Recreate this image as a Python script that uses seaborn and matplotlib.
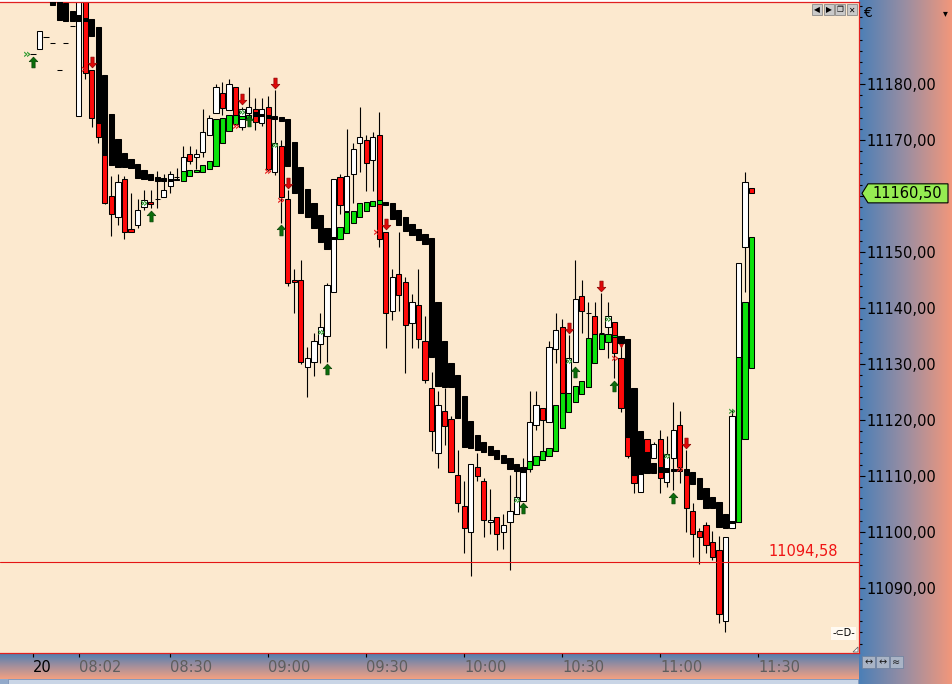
import numpy as np
import matplotlib
matplotlib.use('Agg')
import matplotlib.pyplot as plt
from matplotlib.path import Path
from matplotlib.patches import Polygon, Rectangle
from matplotlib.colors import LinearSegmentedColormap
import seaborn as sns

# 2-minute bars, index 0 = last bar of the 20th, index 7 = 08:02
opens = [11185.4, 11186.3, 11188.5, 11187.4, 11182.6, 11187.4, 11190.4, 11174.3, 11197.5, 11182.6,
         11173.1, 11167.4, 11160.0, 11156.3, 11163.1, 11154.1, 11154.8, 11158.1, 11159.0, 11159.5,
         11159.9, 11161.8, 11163.4, 11163.6, 11167.5, 11167.0, 11167.9, 11170.9, 11174.9, 11178.4,
         11175.4, 11179.5, 11172.4, 11174.9, 11175.6, 11173.1, 11175.9, 11164.3, 11169.0, 11159.5,
         11145.0, 11145.0, 11129.5, 11130.4, 11133.6, 11135.0, 11142.9, 11163.4, 11157.4, 11164.0,
         11169.5, 11170.0, 11166.5, 11170.9, 11153.6, 11139.5, 11146.1, 11144.7, 11137.3, 11140.5,
         11134.1, 11125.7, 11114.1, 11121.6, 11120.2, 11110.1, 11104.6, 11100.0, 11111.6, 11109.1,
         11101.8, 11102.7, 11100.0, 11101.8, 11103.2, 11105.5, 11111.2, 11119.1, 11122.1, 11119.6,
         11132.7, 11136.6, 11124.8, 11130.4, 11142.2, 11139.1, 11138.6, 11135.5, 11136.6, 11137.5,
         11131.1, 11117.0, 11110.1, 11107.1, 11116.6, 11113.2, 11116.6, 11108.9, 11113.2, 11119.1,
         11110.1, 11103.7, 11100.1, 11101.2, 11098.2, 11096.7, 11084.0, 11100.7, 11101.8, 11150.9,
         11161.5]
highs = [11185.4, 11189.5, 11188.5, 11187.4, 11182.6, 11187.4, 11190.4, 11198.0, 11198.0, 11182.6,
         11173.1, 11167.4, 11163.6, 11164.0, 11163.6, 11160.6, 11159.5, 11161.1, 11161.1, 11164.5,
         11164.0, 11164.5, 11165.0, 11169.0, 11169.0, 11168.4, 11175.6, 11174.5, 11180.1, 11180.4,
         11180.9, 11179.6, 11175.9, 11179.5, 11177.5, 11177.5, 11177.9, 11179.0, 11170.0, 11161.1,
         11147.0, 11148.6, 11133.0, 11135.5, 11139.1, 11144.5, 11163.1, 11164.0, 11172.0, 11169.5,
         11175.9, 11170.9, 11171.5, 11175.1, 11153.6, 11147.0, 11153.6, 11145.5, 11142.5, 11147.0,
         11138.6, 11128.6, 11125.2, 11125.7, 11120.7, 11114.6, 11109.1, 11112.1, 11114.1, 11109.6,
         11107.6, 11102.7, 11103.2, 11110.1, 11111.1, 11113.2, 11125.2, 11125.2, 11122.1, 11134.1,
         11139.1, 11138.0, 11135.2, 11148.6, 11145.0, 11141.1, 11141.1, 11142.7, 11141.1, 11137.5,
         11133.7, 11117.0, 11110.1, 11110.3, 11116.6, 11116.1, 11118.2, 11117.1, 11123.2, 11121.6,
         11114.6, 11105.1, 11100.7, 11101.8, 11100.1, 11099.3, 11099.1, 11121.8, 11148.1, 11164.3,
         11161.5]
lows = [11185.4, 11186.3, 11188.5, 11187.4, 11182.6, 11187.4, 11190.4, 11174.3, 11181.0, 11172.4,
        11169.5, 11158.6, 11152.9, 11154.8, 11152.3, 11153.6, 11154.3, 11157.5, 11157.9, 11157.9,
        11159.9, 11160.6, 11162.9, 11162.7, 11165.7, 11164.9, 11167.0, 11170.9, 11174.9, 11174.5,
        11175.4, 11172.8, 11171.8, 11174.5, 11171.8, 11172.5, 11164.5, 11163.8, 11155.2, 11143.9,
        11139.1, 11130.0, 11124.1, 11127.8, 11130.2, 11130.4, 11142.9, 11156.8, 11157.4, 11158.8,
        11164.3, 11160.9, 11160.9, 11150.9, 11132.9, 11137.9, 11139.5, 11128.4, 11132.9, 11132.9,
        11126.6, 11114.4, 11111.4, 11115.5, 11110.7, 11103.5, 11096.2, 11092.1, 11109.1, 11099.1,
        11099.6, 11096.7, 11096.9, 11093.1, 11103.2, 11105.5, 11110.7, 11118.2, 11114.4, 11119.6,
        11130.2, 11124.8, 11124.8, 11130.4, 11135.5, 11134.7, 11135.4, 11135.4, 11131.1, 11127.5,
        11121.4, 11113.2, 11106.9, 11107.1, 11111.4, 11113.2, 11106.9, 11108.0, 11107.5, 11108.7,
        11100.0, 11095.5, 11094.2, 11096.2, 11095.0, 11083.7, 11082.1, 11100.7, 11101.8, 11142.9,
        11160.5]
closes = [11185.4, 11189.5, 11188.5, 11187.4, 11182.6, 11187.4, 11190.4, 11197.5, 11182.0, 11174.0,
          11170.6, 11158.8, 11156.8, 11162.5, 11153.6, 11153.6, 11157.5, 11159.3, 11158.6, 11159.5,
          11161.1, 11164.0, 11163.4, 11167.0, 11166.3, 11167.5, 11171.5, 11174.0, 11179.5, 11175.8,
          11180.1, 11173.0, 11175.6, 11175.9, 11173.3, 11175.6, 11164.9, 11169.5, 11159.9, 11144.5,
          11144.7, 11130.4, 11131.1, 11134.1, 11136.6, 11144.1, 11163.1, 11158.4, 11163.6, 11168.4,
          11170.6, 11165.9, 11170.6, 11152.3, 11139.1, 11145.5, 11142.3, 11137.0, 11141.1, 11134.5,
          11127.1, 11118.0, 11122.7, 11118.9, 11110.7, 11105.1, 11100.7, 11112.1, 11110.0, 11102.1,
          11102.1, 11099.6, 11101.2, 11103.7, 11106.2, 11110.7, 11119.6, 11122.7, 11120.0, 11133.0,
          11136.1, 11124.8, 11131.1, 11141.6, 11139.5, 11139.1, 11135.4, 11135.5, 11138.6, 11132.0,
          11122.2, 11113.5, 11108.7, 11110.3, 11111.4, 11115.7, 11109.6, 11113.9, 11118.2, 11111.6,
          11104.2, 11099.6, 11099.1, 11097.6, 11095.5, 11085.3, 11099.1, 11120.7, 11148.1, 11162.5,
          11160.5]

# smoothed (heikin-ashi style) bars drawn over the candles
ha_open = [np.nan, np.nan, np.nan, 11196.0, 11194.7, 11194.5, 11193.1, 11192.4, 11191.9, 11191.7,
           11190.2, 11181.7, 11174.7, 11170.2, 11167.7, 11166.6, 11165.7, 11164.7, 11164.0, 11163.4,
           11163.2, 11163.1, 11163.0, 11162.7, 11163.6, 11164.3, 11164.3, 11164.9, 11165.4, 11169.5,
           11171.6, 11172.9, 11173.8, 11173.8, 11175.0, 11174.7, 11174.5, 11174.3, 11174.1, 11173.8,
           11169.7, 11165.2, 11161.3, 11158.8, 11156.6, 11154.3, 11152.7, 11152.3, 11153.4, 11155.2,
           11156.3, 11157.4, 11158.2, 11158.6, 11159.0, 11158.8, 11157.5, 11156.3, 11155.0, 11154.1,
           11153.3, 11152.5, 11141.0, 11134.1, 11130.2, 11128.1, 11124.3, 11119.8, 11117.3, 11116.0,
           11115.3, 11114.6, 11113.7, 11113.2, 11112.1, 11111.6, 11111.2, 11111.9, 11112.8, 11113.5,
           11114.4, 11118.6, 11121.4, 11123.2, 11124.6, 11125.9, 11130.2, 11132.7, 11133.9, 11134.8,
           11135.0, 11134.5, 11125.7, 11118.0, 11114.3, 11112.3, 11111.6, 11111.4, 11111.2, 11111.2,
           11111.2, 11110.7, 11109.6, 11107.8, 11106.2, 11105.3, 11103.2, 11101.9, 11101.8, 11116.6,
           11129.3]
ha_close = [np.nan, np.nan, np.nan, 11194.2, 11191.5, 11191.3, 11191.3, 11191.3, 11191.3, 11188.6,
            11173.1, 11167.4, 11165.6, 11165.2, 11165.2, 11165.0, 11163.2, 11163.1, 11162.9, 11162.7,
            11162.7, 11162.7, 11162.9, 11164.5, 11164.7, 11164.7, 11165.6, 11166.3, 11173.8, 11174.0,
            11174.5, 11174.5, 11174.3, 11174.5, 11174.3, 11174.3, 11174.0, 11173.8, 11173.4, 11165.4,
            11160.6, 11157.0, 11156.3, 11154.3, 11151.8, 11150.5, 11152.3, 11154.5, 11157.2, 11157.4,
            11158.8, 11159.0, 11159.1, 11159.3, 11158.4, 11155.9, 11154.8, 11153.8, 11153.1, 11152.2,
            11151.4, 11131.2, 11126.1, 11125.9, 11125.9, 11120.3, 11115.2, 11115.0, 11114.6, 11114.3,
            11113.7, 11113.0, 11112.3, 11111.2, 11110.9, 11110.7, 11112.6, 11113.5, 11114.4, 11115.0,
            11122.7, 11124.8, 11124.8, 11126.1, 11127.0, 11134.7, 11135.4, 11135.4, 11135.4, 11135.2,
            11133.7, 11117.0, 11110.1, 11110.3, 11110.5, 11110.5, 11110.7, 11110.7, 11110.9, 11110.9,
            11110.1, 11108.5, 11105.9, 11104.2, 11104.2, 11100.9, 11100.7, 11101.6, 11131.3, 11141.0,
            11152.7]

# signal markers
up_bars = [0, 18, 33, 38, 45, 75, 83, 89, 98]
up_price = [11183.9, 11156.5, 11173.4, 11154.0, 11129.1, 11104.2, 11128.6, 11126.1, 11106.1]
down_bars = [9, 32, 37, 39, 54, 82, 87, 100]
down_price = [11183.9, 11177.4, 11180.3, 11162.4, 11155.0, 11136.5, 11143.85, 11115.95]
buy_chev_x = [-0.9, 17, 32, 37, 44, 74, 82, 88, 97, 107]
buy_chev_p = [11185.4, 11158.8, 11174.9, 11169.0, 11135.6, 11105.7, 11130.5, 11137.9, 11113.4, 11121.6]
sell_chev_x = [8, 31, 36, 38, 52.6, 89, 99]
sell_chev_p = [11182.6, 11172.45, 11164.4, 11159.3, 11153.6, 11131.0, 11111.2]

time_ticks = [0, 7, 21, 36, 51, 66, 81, 96, 111]
time_labels = ['20', '08:02', '08:30', '09:00', '09:30', '10:00', '10:30', '11:00', '11:30']
price_ticks = list(range(11090, 11181, 10))
level = 11094.58
last_price = 11160.50

W, H = 952, 684
sns.set_style('ticks')
plt.rcParams['font.family'] = ['DejaVu Sans']

fig = plt.figure(figsize=(W / 100, H / 100), dpi=100)

# gradient panels for the price scale and time scale
grad_h = LinearSegmentedColormap.from_list('h', ['#4b7fb7', '#9a8ea2', '#f2977b'])
grad_v = LinearSegmentedColormap.from_list('v', ['#4d7eb2', '#a48f9c', '#f3a181'])
ax_r = fig.add_axes([859 / W, 0, 93 / W, 1])
ax_r.imshow(np.linspace(0, 1, 256)[None, :], cmap=grad_h, aspect='auto', extent=[0, 1, 0, 1])
ax_r.axis('off')
ax_b = fig.add_axes([0, 5 / H, 859 / W, 26 / H])
ax_b.imshow(np.linspace(0, 1, 256)[:, None], cmap=grad_v, aspect='auto', extent=[0, 1, 0, 1])
ax_b.axis('off')
ax_s = fig.add_axes([0, 0, 859 / W, 5 / H])
ax_s.set_facecolor('#92a9ca')
ax_s.add_patch(Rectangle((0.009, 0.1), 0.99, 0.9, facecolor='#c9d5e6', edgecolor='#7f95b8', lw=0.6))
ax_s.set_xticks([])
ax_s.set_yticks([])
for s in ax_s.spines.values():
    s.set_visible(False)

# main chart
ax = fig.add_axes([0, 31 / H, 859 / W, 651 / H])
ax.set_facecolor('#fce9cf')

idx = np.arange(len(opens))
o = np.array(opens)
c = np.array(closes)
ho = np.array(ha_open)
hc = np.array(ha_close)

ax.vlines(idx, lows, highs, color='black', lw=0.8, zorder=1)
body_colors = ['#ff0a0a' if cc < oo else 'white' for oo, cc in zip(o, c)]
ax.bar(idx, c - o, bottom=o, width=0.8, color=body_colors, edgecolor='black', linewidth=0.75, zorder=2)

ok = ~np.isnan(ho)
ha_colors = ['#0ce20c' if b > a else 'black' for a, b in zip(ho[ok], hc[ok])]
ax.bar(idx[ok], hc[ok] - ho[ok], bottom=ho[ok], width=0.8, color=ha_colors, edgecolor='black',
       linewidth=0.75, zorder=3)

ax.axhline(level, color='#e41414', lw=0.8, zorder=4)
ax.text(123.2, level + 0.6, '11094,58', color='#f01414', ha='right', va='bottom', fontsize=10.5, zorder=6)

up_path = Path([(0, 1), (0.8, 0.15), (0.3, 0.15), (0.3, -1), (-0.3, -1), (-0.3, 0.15), (-0.8, 0.15), (0, 1)],
               closed=True)
down_path = Path([(x, -y) for x, y in up_path.vertices], up_path.codes)
sns.scatterplot(x=up_bars, y=up_price, marker=up_path, s=60, color='#0b6e0b', edgecolor='#054005',
                linewidth=0.5, ax=ax, zorder=5, legend=False)
sns.scatterplot(x=down_bars, y=down_price, marker=down_path, s=60, color='#e00808', edgecolor='#8a0000',
                linewidth=0.5, ax=ax, zorder=5, legend=False)
sns.scatterplot(x=[90], y=[11133.4], marker='v', s=14, color='#e00808', edgecolor='#8a0000',
                linewidth=0.4, ax=ax, zorder=2.5, legend=False)
for xx, pp in zip(buy_chev_x, buy_chev_p):
    ax.text(xx, pp, '»', color='#2f9a2f', fontsize=9, fontweight='bold', ha='center', va='center', zorder=6)
for xx, pp in zip(sell_chev_x, sell_chev_p):
    ax.text(xx, pp, '»', color='#e81c1c', fontsize=9, fontweight='bold', ha='center', va='center', zorder=6)

ax.set_xlim(-33 / 6.533, (859 - 33) / 6.533)
ax.set_ylim(11078.32, 11194.71)

ax.set_xticks(time_ticks)
ax.set_xticklabels(time_labels)
ax.tick_params(axis='x', direction='out', length=3, width=0.8, pad=2, labelsize=10.5, colors='black')
for i, lbl in enumerate(ax.get_xticklabels()):
    lbl.set_ha('left')
    lbl.set_color('black' if i == 0 else '#5e5e5e')

ax.yaxis.tick_right()
ax.set_yticks(price_ticks)
# the 11160 label sits under the last-price tag, as in the reference
ax.set_yticklabels(['' if abs(v - last_price) < 3 else f'{v:.2f}'.replace('.', ',') for v in price_ticks])
ax.set_yticks(np.arange(11080, 11195, 2), minor=True)
ax.tick_params(axis='y', which='major', direction='out', length=4, width=0.8, pad=1.5, labelsize=10.5,
               colors='black')
ax.tick_params(axis='y', which='minor', direction='out', length=2, width=0.8, colors='black')

ax.spines['left'].set_visible(False)
for side in ['right', 'bottom', 'top']:
    ax.spines[side].set_color('#e02020')
    ax.spines[side].set_linewidth(0.9)

# last price tag on the scale
tr = ax.get_yaxis_transform()
dx = 1 / 859
tag = Polygon([(1 + 3 * dx, last_price), (1 + 9 * dx, last_price + 1.7), (1 + 89 * dx, last_price + 1.7),
               (1 + 89 * dx, last_price - 1.7), (1 + 9 * dx, last_price - 1.7)],
              closed=True, transform=tr, clip_on=False, facecolor='#96ec52', edgecolor='black', lw=0.8,
              zorder=10)
ax.add_patch(tag)
ax.text(1 + 48 * dx, last_price, f'{last_price:.2f}'.replace('.', ','), transform=tr, ha='center',
        va='center', fontsize=10.5, color='black', zorder=11, clip_on=False)

# small window decorations, pixel coordinates
ov = fig.add_axes([0, 0, 1, 1])
ov.set_xlim(0, W)
ov.set_ylim(H, 0)
ov.axis('off')
for k, g in enumerate(['◀', '▶', '❐', '✕']):
    x0 = 812 + k * 11.5
    ov.add_patch(Rectangle((x0, 4), 10, 11, facecolor='#c9c9c9', edgecolor='#7a7a7a', lw=0.5))
    ov.text(x0 + 5, 9.8, g, fontsize=5.5, ha='center', va='center', color='black')
ov.text(863, 13, '€', fontsize=10, ha='left', va='center', color='black')
ov.text(945, 13, '▾', fontsize=7, ha='center', va='center', color='black')
ov.add_patch(Rectangle((831, 627), 25, 13, facecolor='#fffaf2', edgecolor='none'))
ov.text(843.5, 633.5, '-⊂D-', fontsize=7, ha='center', va='center', color='black')
ov.add_patch(Polygon([(853, 652), (858, 647), (858, 652)], closed=True, facecolor='white', edgecolor='#555555',
                     lw=0.5))
for k, g in enumerate(['↔', '↔', '≈']):
    x0 = 862 + k * 14
    ov.add_patch(Rectangle((x0, 656), 13, 12, facecolor='#a9b4c6', edgecolor='#6d7f9c', lw=0.5))
    ov.text(x0 + 6.5, 662, g, fontsize=7, ha='center', va='center', color='#1a1a1a')

fig.savefig('out.png', dpi=100)
